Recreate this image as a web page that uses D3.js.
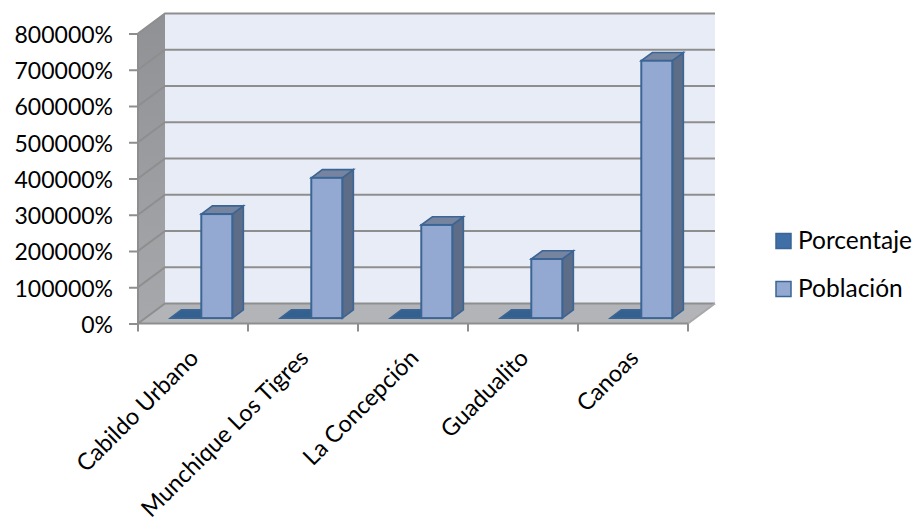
<!DOCTYPE html>
<html>
<head>
<meta charset="utf-8">
<script src="https://cdn.jsdelivr.net/npm/d3@7"></script>
<style>
    html, body { margin: 0; padding: 0; background: #fff; overflow: hidden; }
    svg { display: block; }
    text { font-family: Lato, "Open Sans", sans-serif; fill: #000; }
</style>
</head>
<body>
<div id="chart"></div>
<script>
const categories = ["Cabildo Urbano", "Munchique Los Tigres", "La Concepción", "Guadualito", "Canoas"];
const seriesNames = ["Porcentaje", "Población"];
const porcentaje = [0, 0, 0, 0, 0];
const poblacion = [287000, 387000, 257000, 163000, 710000];
const yTicks = [0, 100000, 200000, 300000, 400000, 500000, 600000, 700000, 800000];

const width = 916, height = 523;
const svg = d3.select("#chart").append("svg").attr("width", width).attr("height", height);

/* ----------------------- Scales ----------------------- */
const x0 = d3.scaleBand().domain(categories).range([138, 688]);
const x1 = d3.scaleBand().domain(seriesNames).range([25, 87]);
const y = d3.scaleLinear().domain([0, 800000]).range([323.5, 33.5]);

// oblique offset of the 3d box: depth 0 = front, 1 = back wall
const depth = d3.scaleLinear().domain([0, 1]);
const dx = depth.copy().range([0, 27]);
const dy = depth.copy().range([0, -20]);
const barFront = 0.27, barBack = 0.68;

const pts = arr => arr.map(p => p.join(",")).join(" ");
const left = x0.range()[0], right = x0.range()[1];

/* ----------------------- Walls and floor ----------------------- */
const defs = svg.append("defs");
const sideGrad = defs.append("linearGradient").attr("id", "side").attr("x1", 0).attr("x2", 0).attr("y1", 0).attr("y2", 1);
sideGrad.append("stop").attr("offset", 0).attr("stop-color", "#8f9195");
sideGrad.append("stop").attr("offset", 1).attr("stop-color", "#a6a8ab");

svg.append("polygon")
    .attr("points", pts([[left + dx(1), y(800000) + dy(1)], [right + dx(1), y(800000) + dy(1)], [right + dx(1), y(0) + dy(1)], [left + dx(1), y(0) + dy(1)]]))
    .attr("fill", "#e8ecf6");
svg.append("polygon")
    .attr("points", pts([[left, y(800000)], [left + dx(1), y(800000) + dy(1)], [left + dx(1), y(0) + dy(1)], [left, y(0)]]))
    .attr("fill", "url(#side)");
svg.append("polygon")
    .attr("points", pts([[left, y(0)], [left + dx(1), y(0) + dy(1)], [right + dx(1), y(0) + dy(1)], [right, y(0)]]))
    .attr("fill", "#b2b4b8");

/* ----------------------- Gridlines ----------------------- */
const grid = svg.append("g").attr("fill", "none").attr("stroke", "#8e8e8e").attr("stroke-width", 2);
grid.selectAll("polyline")
    .data(yTicks)
    .enter().append("polyline")
    .attr("points", d => pts([[left, y(d)], [left + dx(1), y(d) + dy(1)], [right + dx(1), y(d) + dy(1)]]));
grid.append("line")
    .attr("x1", right).attr("y1", y(0))
    .attr("x2", right + dx(1)).attr("y2", y(0) + dy(1))
    .attr("stroke", "#a8a8a8");
grid.append("line")
    .attr("x1", left).attr("y1", y(0))
    .attr("x2", left).attr("y2", y(800000));

/* ----------------------- Bars ----------------------- */
const barStroke = "#3a6595";
function drawBar(g, xLeft, w, value, front, side, top) {
    const x = xLeft + dx(barFront), yBase = y(0) + dy(barFront), yTop = y(value) + dy(barFront);
    const ox = dx(barBack - barFront), oy = dy(barBack - barFront);
    g.append("polygon")
        .attr("points", pts([[x + w, yBase], [x + w + ox, yBase + oy], [x + w + ox, yTop + oy], [x + w, yTop]]))
        .attr("fill", side).attr("stroke", barStroke).attr("stroke-width", 1.6);
    g.append("polygon")
        .attr("points", pts([[x, yTop], [x + ox, yTop + oy], [x + w + ox, yTop + oy], [x + w, yTop]]))
        .attr("fill", top).attr("stroke", barStroke).attr("stroke-width", 1.6);
    if (value > 0) {
        g.append("rect")
            .attr("x", x).attr("y", yTop).attr("width", w).attr("height", yBase - yTop)
            .attr("fill", front).attr("stroke", barStroke).attr("stroke-width", 2);
    }
}

const bars = svg.append("g");
categories.forEach((c, i) => {
    const g = bars.append("g");
    drawBar(g, x0(c) + x1("Porcentaje"), x1.bandwidth(), porcentaje[i], "#3f6fa6", "#2f5a8c", "#34608f");
    drawBar(g, x0(c) + x1("Población"), x1.bandwidth(), poblacion[i], "#94a9d2", "#5d6c87", "#76849f");
});

/* ----------------------- Axes ----------------------- */
const yAxis = d3.axisLeft(y).tickValues(yTicks).tickSize(9).tickPadding(16).tickFormat(d => `${d}%`);
const yG = svg.append("g").attr("transform", `translate(${left},0)`).call(yAxis);
yG.select(".domain").remove();
yG.selectAll("line").attr("stroke", "#8e8e8e").attr("stroke-width", 2);
yG.selectAll("text").attr("font-size", 23).attr("dy", "0.38em").style("font-family", "Lato, sans-serif");

const xAxis = svg.append("g");
xAxis.append("line")
    .attr("x1", left).attr("x2", right).attr("y1", y(0)).attr("y2", y(0))
    .attr("stroke", "#8e8e8e").attr("stroke-width", 2);
xAxis.selectAll(".tick")
    .data(categories.concat([null]))
    .enter().append("line")
    .attr("class", "tick")
    .attr("x1", (d, i) => left + i * x0.step()).attr("x2", (d, i) => left + i * x0.step())
    .attr("y1", y(0)).attr("y2", y(0) + 8)
    .attr("stroke", "#8e8e8e").attr("stroke-width", 2);
xAxis.selectAll(".cat")
    .data(categories)
    .enter().append("text")
    .attr("class", "cat")
    .attr("font-size", 23.5)
    .attr("text-anchor", "end")
    .attr("transform", d => `translate(${x0(d) + x0.bandwidth() / 2 + 7},${y(0) + 36}) rotate(-45)`)
    .text(d => d);

/* ----------------------- Legend ----------------------- */
const legendColors = ["#3f6fa6", "#94a9d2"];
const legendY = d3.scalePoint().domain(seriesNames).range([241, 289]);
const legend = svg.append("g").selectAll("g")
    .data(seriesNames)
    .enter().append("g")
    .attr("transform", d => `translate(776,${legendY(d)})`);
legend.append("rect")
    .attr("x", 0).attr("y", -7.5).attr("width", 15).attr("height", 15)
    .attr("fill", (d, i) => legendColors[i])
    .attr("stroke", barStroke).attr("stroke-width", 1.5);
legend.append("text")
    .attr("x", 22).attr("y", 7.5)
    .attr("font-size", 24.5)
    .text(d => d);
</script>
</body>
</html>
